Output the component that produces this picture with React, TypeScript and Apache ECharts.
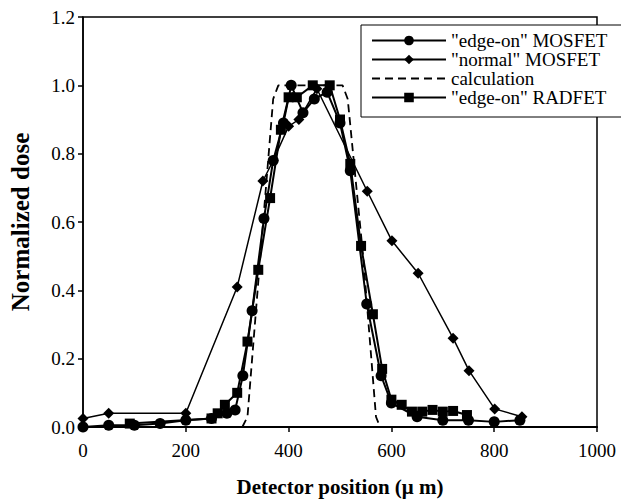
import React, { useEffect, useRef } from "react";
import * as echarts from "echarts";

const edgeOnMosfetX = [0, 50, 100, 150, 200, 250, 280, 296, 311, 329, 352, 370, 390, 405, 428, 450, 475, 500, 520, 552, 580, 600, 650, 700, 750, 800, 850];
const edgeOnMosfetY = [0, 0.005, 0.005, 0.01, 0.02, 0.025, 0.04, 0.05, 0.15, 0.34, 0.61, 0.78, 0.89, 1.0, 0.92, 0.96, 0.98, 0.89, 0.75, 0.36, 0.15, 0.07, 0.03, 0.02, 0.02, 0.015, 0.02];

const normalMosfetX = [0, 50, 200, 300, 350, 370, 400, 420, 455, 553, 601, 652, 720, 751, 801, 854];
const normalMosfetY = [0.025, 0.04, 0.04, 0.41, 0.72, 0.78, 0.88, 0.9, 0.99, 0.69, 0.545, 0.45, 0.26, 0.165, 0.053, 0.03];

const calcX = [310, 320, 345, 370, 380, 505, 515, 545, 570, 578];
const calcY = [0, 0.03, 0.5, 0.96, 1.0, 1.0, 0.96, 0.5, 0.03, 0];

const radfetX = [91, 250, 262, 276, 300, 320, 341, 364, 385, 400, 416, 447, 480, 500, 520, 541, 564, 582, 600, 620, 640, 660, 680, 700, 720, 747];
const radfetY = [0.01, 0.025, 0.04, 0.065, 0.1, 0.25, 0.46, 0.67, 0.87, 0.965, 0.965, 1.0, 1.0, 0.9, 0.77, 0.53, 0.33, 0.17, 0.08, 0.065, 0.045, 0.045, 0.05, 0.045, 0.047, 0.035];

const zip = (xs: number[], ys: number[]) => xs.map((x, i) => [x, ys[i]]);

const FONT = "Liberation Serif";

export default function App() {
  const ref = useRef<HTMLDivElement>(null);
  useEffect(() => {
    const chart = echarts.init(ref.current!, null, { renderer: "svg" });
    chart.setOption({
      animation: false,
      backgroundColor: "#fff",
      grid: {
        left: 83,
        right: 24,
        top: 17,
        bottom: 77,
        show: true,
        borderColor: "#000",
        borderWidth: 1.5,
      },
      legend: {
        orient: "vertical",
        left: 361,
        top: 25,
        itemWidth: 74,
        itemHeight: 12,
        itemGap: 0,
        padding: [6, 18, 10, 10],
        backgroundColor: "#fff",
        borderColor: "#000",
        borderWidth: 1,
        textStyle: { fontFamily: FONT, fontSize: 19, lineHeight: 18, color: "#000" },
        data: [
          '"edge-on" MOSFET',
          '"normal" MOSFET',
          { name: "calculation", itemStyle: { opacity: 0 } },
          '"edge-on" RADFET',
        ],
      },
      xAxis: {
        type: "value",
        min: 0,
        max: 1000,
        interval: 200,
        name: "Detector position (\u03bc m)",
        nameLocation: "middle",
        nameGap: 49,
        nameTextStyle: { fontFamily: FONT, fontSize: 21, fontWeight: "bold", color: "#000" },
        axisLine: { lineStyle: { color: "#000", width: 2 } },
        axisTick: { inside: false, length: 5, lineStyle: { color: "#000", width: 1.5 } },
        axisLabel: {
          fontFamily: FONT,
          fontSize: 19,
          color: "#000",
          margin: 14,
          formatter: (v: number) => String(v),
        },
        splitLine: { show: false },
      },
      yAxis: {
        type: "value",
        min: 0,
        max: 1.2,
        interval: 0.2,
        name: "Normalized dose",
        nameLocation: "middle",
        nameGap: 50,
        nameTextStyle: { fontFamily: FONT, fontSize: 25, fontWeight: "bold", color: "#000" },
        axisLine: { lineStyle: { color: "#000", width: 1.5 } },
        axisTick: { inside: false, length: 5, lineStyle: { color: "#000", width: 1.5 } },
        axisLabel: {
          fontFamily: FONT,
          fontSize: 19,
          color: "#000",
          margin: 8,
          formatter: (v: number) => v.toFixed(1),
        },
        splitLine: { show: false },
      },
      series: [
        {
          name: '"edge-on" MOSFET',
          type: "line",
          data: zip(edgeOnMosfetX, edgeOnMosfetY),
          symbol: "circle",
          symbolSize: 11,
          itemStyle: { color: "#000" },
          lineStyle: { color: "#000", width: 2 },
          z: 3,
        },
        {
          name: '"normal" MOSFET',
          type: "line",
          data: zip(normalMosfetX, normalMosfetY),
          symbol: "diamond",
          symbolSize: 11,
          itemStyle: { color: "#000" },
          lineStyle: { color: "#000", width: 1.5 },
          z: 3,
        },
        {
          name: "calculation",
          type: "line",
          data: zip(calcX, calcY),
          symbol: "none",
          showSymbol: false,
          itemStyle: { color: "#000" },
          lineStyle: { color: "#000", width: 1.8, type: [8, 5] },
          z: 2,
        },
        {
          name: '"edge-on" RADFET',
          type: "line",
          data: zip(radfetX, radfetY),
          symbol: "rect",
          symbolSize: 10,
          itemStyle: { color: "#000" },
          lineStyle: { color: "#000", width: 2 },
          z: 3,
        },
      ],
    });
    return () => chart.dispose();
  }, []);
  return <div ref={ref} style={{ width: 621, height: 504, position: "absolute", left: 0, top: 0 }} />;
}
